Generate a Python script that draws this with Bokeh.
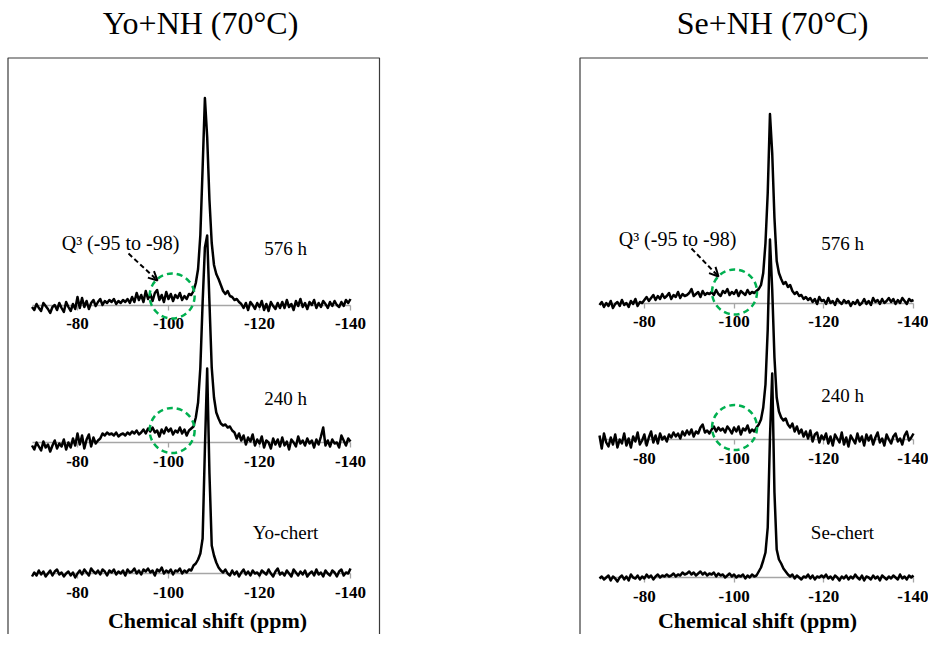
from bokeh.plotting import figure
from bokeh.models import Range1d, LinearAxis, FixedTicker, Label, Arrow, OpenHead
from bokeh.embed import file_html
from bokeh.resources import INLINE

# ---------------- data ----------------
PPM = [
    -70.0, -70.5, -71.0, -71.5, -72.0, -72.5, -73.0, -73.5, -74.0, -74.5,
    -75.0, -75.5, -76.0, -76.5, -77.0, -77.5, -78.0, -78.5, -79.0, -79.5,
    -80.0, -80.5, -81.0, -81.5, -82.0, -82.5, -83.0, -83.5, -84.0, -84.5,
    -85.0, -85.5, -86.0, -86.5, -87.0, -87.5, -88.0, -88.5, -89.0, -89.5,
    -90.0, -90.5, -91.0, -91.5, -92.0, -92.5, -93.0, -93.5, -94.0, -94.5,
    -95.0, -95.5, -96.0, -96.5, -97.0, -97.5, -98.0, -98.5, -99.0, -99.5,
    -100.0, -100.5, -101.0, -101.5, -102.0, -102.5, -103.0, -103.5, -104.0, -104.5,
    -105.0, -105.5, -106.0, -106.5, -107.0, -107.5, -108.0, -108.5, -109.0, -109.5,
    -110.0, -110.5, -111.0, -111.5, -112.0, -112.5, -113.0, -113.5, -114.0, -114.5,
    -115.0, -115.5, -116.0, -116.5, -117.0, -117.5, -118.0, -118.5, -119.0, -119.5,
    -120.0, -120.5, -121.0, -121.5, -122.0, -122.5, -123.0, -123.5, -124.0, -124.5,
    -125.0, -125.5, -126.0, -126.5, -127.0, -127.5, -128.0, -128.5, -129.0, -129.5,
    -130.0, -130.5, -131.0, -131.5, -132.0, -132.5, -133.0, -133.5, -134.0, -134.5,
    -135.0, -135.5, -136.0, -136.5, -137.0, -137.5, -138.0, -138.5, -139.0, -139.5,
    -140.0,
]

YO_576 = [
    -2, -5, 1, -3, -6, 2, -1, -4, -8, -2,
    0, -5, 2, -3, -7, 3, -2, -6, 1, -4,
    8, -3, 7, -2, 4, -4, 2, 5, -1, 3,
    6, 0, 4, 2, 5, 3, 6, 1, 4, 2,
    5, 3, 6, 2, 8, 3, 12, 5, 10, 3,
    14, 6, 11, 4, 12, 15, 5, 10, 3, 13,
    6, 11, 4, 10, 7, 12, 5, 9, 6, 11,
    10, 14, 22, 36, 70, 137, 207, 168, 105, 62,
    40, 31, 26, 20, 14, 11, 14, 9, 8, 5,
    6, 3, 1, -3, 2, -5, 3, 0, -4, 2,
    -2, 4, -5, 1, -6, 3, -1, -4, 2, -3,
    3, -3, 5, -2, 1, -5, 4, -1, 6, -2,
    2, -4, 3, 0, 5, -3, 2, -2, 4, 1,
    -3, 3, -1, 4, 0, -2, 3, -1, 5, 2,
    6,
]

YO_240 = [
    -3, -7, 0, -4, -8, 1, -5, -2, -9, -3,
    2, -6, -1, -4, 3, -7, 0, -5, 4, -3,
    9, -2, 7, -6, 3, 8, -4, 5, -1, 2,
    4, 9, 7, 10, 8, 9, 7, 10, 6, 8,
    9, 7, 10, 8, 11, 9, 12, 8, 10, 13,
    9, 14, 11, 15, 10, 12, 6, 13, 9, 15,
    11, 14, 8, 12, 10, 15, 9, 13, 7, 12,
    14, 16, 25, 40, 75, 140, 195, 207, 140, 75,
    45, 30, 24, 19, 17, 18, 15, 16, 12, 10,
    4, 9, 2, 7, -2, 5, 1, 8, -3, 3,
    -1, 6, -5, 2, 0, -6, 4, -2, 3, -4,
    5, -3, 1, -7, 3, 0, -4, 6, -1, 2,
    -3, 4, -1, 2, -5, 3, -2, 6, 15, -3,
    2, -4, 3, -1, 0, -5, 7, 2, -3, 4,
    1,
]

YO_CHERT = [
    -3, 1, -2, 3, -1, 2, -3, 0, 3, -2,
    2, 4, -1, 1, -3, 0, 2, -2, 1, -4,
    0, 3, -1, 4, 1, -2, 5, 2, 0, 3,
    -1, 4, 2, -2, 3, 1, 4, -1, 2, 0,
    3, -2, 4, 1, 2, 5, 0, 3, -1, 4,
    2, 5, 1, 3, -2, 4, 2, 6, 0, 3,
    1, 4, -1, 3, 2, 5, 0, 3, 1, 4,
    3, 8, 10, 14, 20, 35, 125, 205, 100, 28,
    18, 11, 6, 3, 1, 4, 0, -2, 3, -1,
    2, -3, 1, 4, -1, 2, -2, 3, 0, 1,
    -2, 3, 1, -1, 4, 0, -3, 2, 5, -1,
    1, -2, 3, 0, -3, 4, 1, -2, 2, -1,
    3, -3, 0, 2, -2, 4, -1, 1, -3, 3,
    0, -2, 3, 1, -3, 2, 4, -2, 1, 0,
    5,
]

SE_576 = [
    -2, 1, -4, 0, -3, 2, -5, -1, 1, -3,
    3, -2, 0, -4, 2, -1, 4, -3, 1, 0,
    3, 6, 2, 5, 8, 3, 7, 4, 9, 5,
    7, 10, 4, 8, 6, 11, 5, 9, 7, 8,
    10, 14, 7, 9, 11, 6, 12, 8, 10, 9,
    11, 8, 13, 9, 7, 12, 10, 14, 8, 11,
    9, 13, 7, 12, 10, 8, 13, 9, 11, 10,
    12, 14, 18, 30, 60, 110, 189, 150, 85, 42,
    30, 24, 19, 21, 16, 18, 12, 9, 11, 7,
    8, 4, 6, 3, 5, 1, 4, -1, 6, 2,
    3, -1, 5, 0, 2, -2, 4, 1, -1, 3,
    0, 2, -3, 1, -1, 3, -2, 0, 4, -1,
    2, -2, 5, 1, 3, -1, 4, 0, 2, 5,
    1, 4, -1, 3, 0, 5, 2, -1, 4, 2,
    3,
]

SE_240 = [
    4, -9, 6, -3, -7, 2, -5, 5, -8, 0,
    -4, 6, -6, 1, -8, 3, -2, 7, -5, -1,
    5, -6, 2, 8, -3, 4, -4, 6, 0, 3,
    -2, 5, 2, 7, 3, 6, 1, 8, 4, 9,
    5, 10, 3, 8, 6, 12, 15, 7, 9, 6,
    10, 13, 8, 12, 9, 11, 7, 13, 10, 6,
    12, 8, 13, 5, 11, 9, 14, 7, 10, 8,
    12, 15, 20, 32, 55, 110, 200, 150, 82, 42,
    28, 22, 19, 21, 15, 12, 16, 8, 13, 6,
    10, 3, 8, 1, 9, -2, 5, 7, -3, 4,
    0, 6, -4, 3, -6, 5, 1, -3, 7, -5,
    2, -7, 4, 0, -4, 6, -2, 3, -6, 5,
    -1, 4, -5, 2, 7, -3, 1, -6, 5, 0,
    -4, 3, 6, -2, 1, -5, 4, 8, -1, 2,
    6,
]

SE_CHERT = [
    -1, 1, -2, 0, 2, -3, 1, -1, -4, 0,
    2, -2, 1, -3, 3, 0, -1, 2, -2, 1,
    -1, 3, 0, 2, -2, 1, 3, 0, 2, 1,
    3, 1, 2, 4, 1, 3, 2, 5, 3, 4,
    6, 3, 5, 2, 4, 6, 3, 5, 2, 4,
    3, 5, 1, 4, 2, 3, 0, 2, 4, 1,
    3, 0, 2, 1, 3, -1, 2, 0, 3, 1,
    2, 6, 10, 17, 25, 50, 140, 204, 85, 28,
    18, 14, 9, 6, 3, 1, 3, -1, 2, 0,
    -2, 1, 0, 3, -1, 2, -2, 1, 0, 2,
    0, 3, -1, 1, -2, 2, 0, -3, 1, -1,
    2, -2, 1, -1, 3, 0, -2, 2, -3, 1,
    0, -2, 2, -1, 1, -3, 2, 0, -2, 1,
    -1, 2, 0, -2, 3, -1, 1, -2, 2, 0,
    2,
]

TICKS = [-80, -100, -120, -140]
TICK_TEXT = {-80: "-80", -100: "-100", -120: "-120", -140: "-140"}
PANEL_TITLES = ["Yo+NH (70°C)", "Se+NH (70°C)"]
SPECTRUM_LABELS = [["576 h", "240 h", "Yo-chert"], ["576 h", "240 h", "Se-chert"]]
Q3_TEXT = "Q³ (-95 to -98)"
Q3_CENTER_PPM = [-100.8, -100.1]
X_TITLE = "Chemical shift (ppm)"

# ---------------- layout (canvas pixels, y measured up from bottom) ----------------
W, H = 928, 634
SERIF = "Liberation Serif"
GREEN = "#00b050"
GRAY = "#a6a6a6"

p = figure(width=W, height=H, output_backend="svg", toolbar_location=None,
           x_range=Range1d(0, W), y_range=Range1d(0, H),
           x_axis_type=None, y_axis_type=None, min_border=0,
           outline_line_color=None, background_fill_color="white",
           border_fill_color="white")
p.extra_x_ranges = {
    "L": Range1d(start=-63.077, end=-267.03),
    "R": Range1d(start=63.53, end=-143.34),
}

panels = [
    dict(rng="L", series=[YO_576, YO_240, YO_CHERT], bases=[329.5, 192, 61],
         title_x=200, label_x=285, label_y=[386, 236, 102], circle_dy=[9, 12],
         box=(7.5, 379), arrow=((128, 381), (157, 354)), q3=(120, 392),
         xtitle_x=207),
    dict(rng="R", series=[SE_576, SE_240, SE_CHERT], bases=[331.5, 195, 57],
         title_x=772, label_x=842, label_y=[391, 239, 102], circle_dy=[11, 12],
         box=(579.5, 1000), arrow=((691, 386), (718, 358)), q3=(677, 396),
         xtitle_x=757),
]

for k, pan in enumerate(panels):
    rng = pan["rng"]
    # panel frame
    p.quad(left=[pan["box"][0]], right=[pan["box"][1]], top=[576.5], bottom=[-20],
           fill_color=None, line_color="#3a3a3a", line_width=1.2)
    # title
    p.add_layout(Label(x=pan["title_x"], y=612, text=PANEL_TITLES[k], text_font=SERIF,
                       text_font_size="32px", text_align="center",
                       text_baseline="middle", text_color="black"))
    for j, (vals, base) in enumerate(zip(pan["series"], pan["bases"])):
        ax = LinearAxis(x_range_name=rng, fixed_location=base, bounds=(-140, -70),
                        ticker=FixedTicker(ticks=TICKS, minor_ticks=[]),
                        major_label_overrides=TICK_TEXT,
                        axis_line_color=GRAY, axis_line_width=1.3,
                        major_tick_line_color=GRAY, major_tick_line_width=1.3,
                        major_tick_out=5, major_tick_in=0,
                        minor_tick_line_color=None,
                        major_label_text_font=SERIF,
                        major_label_text_font_style="bold",
                        major_label_text_font_size="17px",
                        major_label_text_color="black",
                        major_label_standoff=8, level="underlay")
        p.add_layout(ax, "below")
        ys = [base + v for v in vals]
        p.line(PPM, ys, x_range_name=rng, line_color="black", line_width=2.5,
               line_join="round")
        p.add_layout(Label(x=pan["label_x"], y=pan["label_y"][j],
                           text=SPECTRUM_LABELS[k][j], text_font=SERIF,
                           text_font_size="19px", text_align="center",
                           text_baseline="middle", text_color="black"))
        if j < 2:
            p.scatter([Q3_CENTER_PPM[k]], [base + pan["circle_dy"][j]],
                      x_range_name=rng, marker="circle", size=45,
                      fill_color=None, line_color=GREEN, line_width=2.5,
                      line_dash="6 4")
    # Q3 annotation
    p.add_layout(Label(x=pan["q3"][0], y=pan["q3"][1], text=Q3_TEXT, text_font=SERIF,
                       text_font_size="20px", text_align="center",
                       text_baseline="middle", text_color="black"))
    (xs, ys0), (xe, ye) = pan["arrow"]
    p.add_layout(Arrow(x_start=xs, y_start=ys0, x_end=xe, y_end=ye,
                       line_color="black", line_width=2, line_dash="5 3",
                       end=OpenHead(size=9, line_color="black", line_width=2)))
    # x title
    p.add_layout(Label(x=pan["xtitle_x"], y=2, text=X_TITLE,
                       text_font=SERIF, text_font_style="bold",
                       text_font_size="22px", text_align="center",
                       text_baseline="bottom", text_color="black"))

open("out.html", "w").write(file_html(p, INLINE))
